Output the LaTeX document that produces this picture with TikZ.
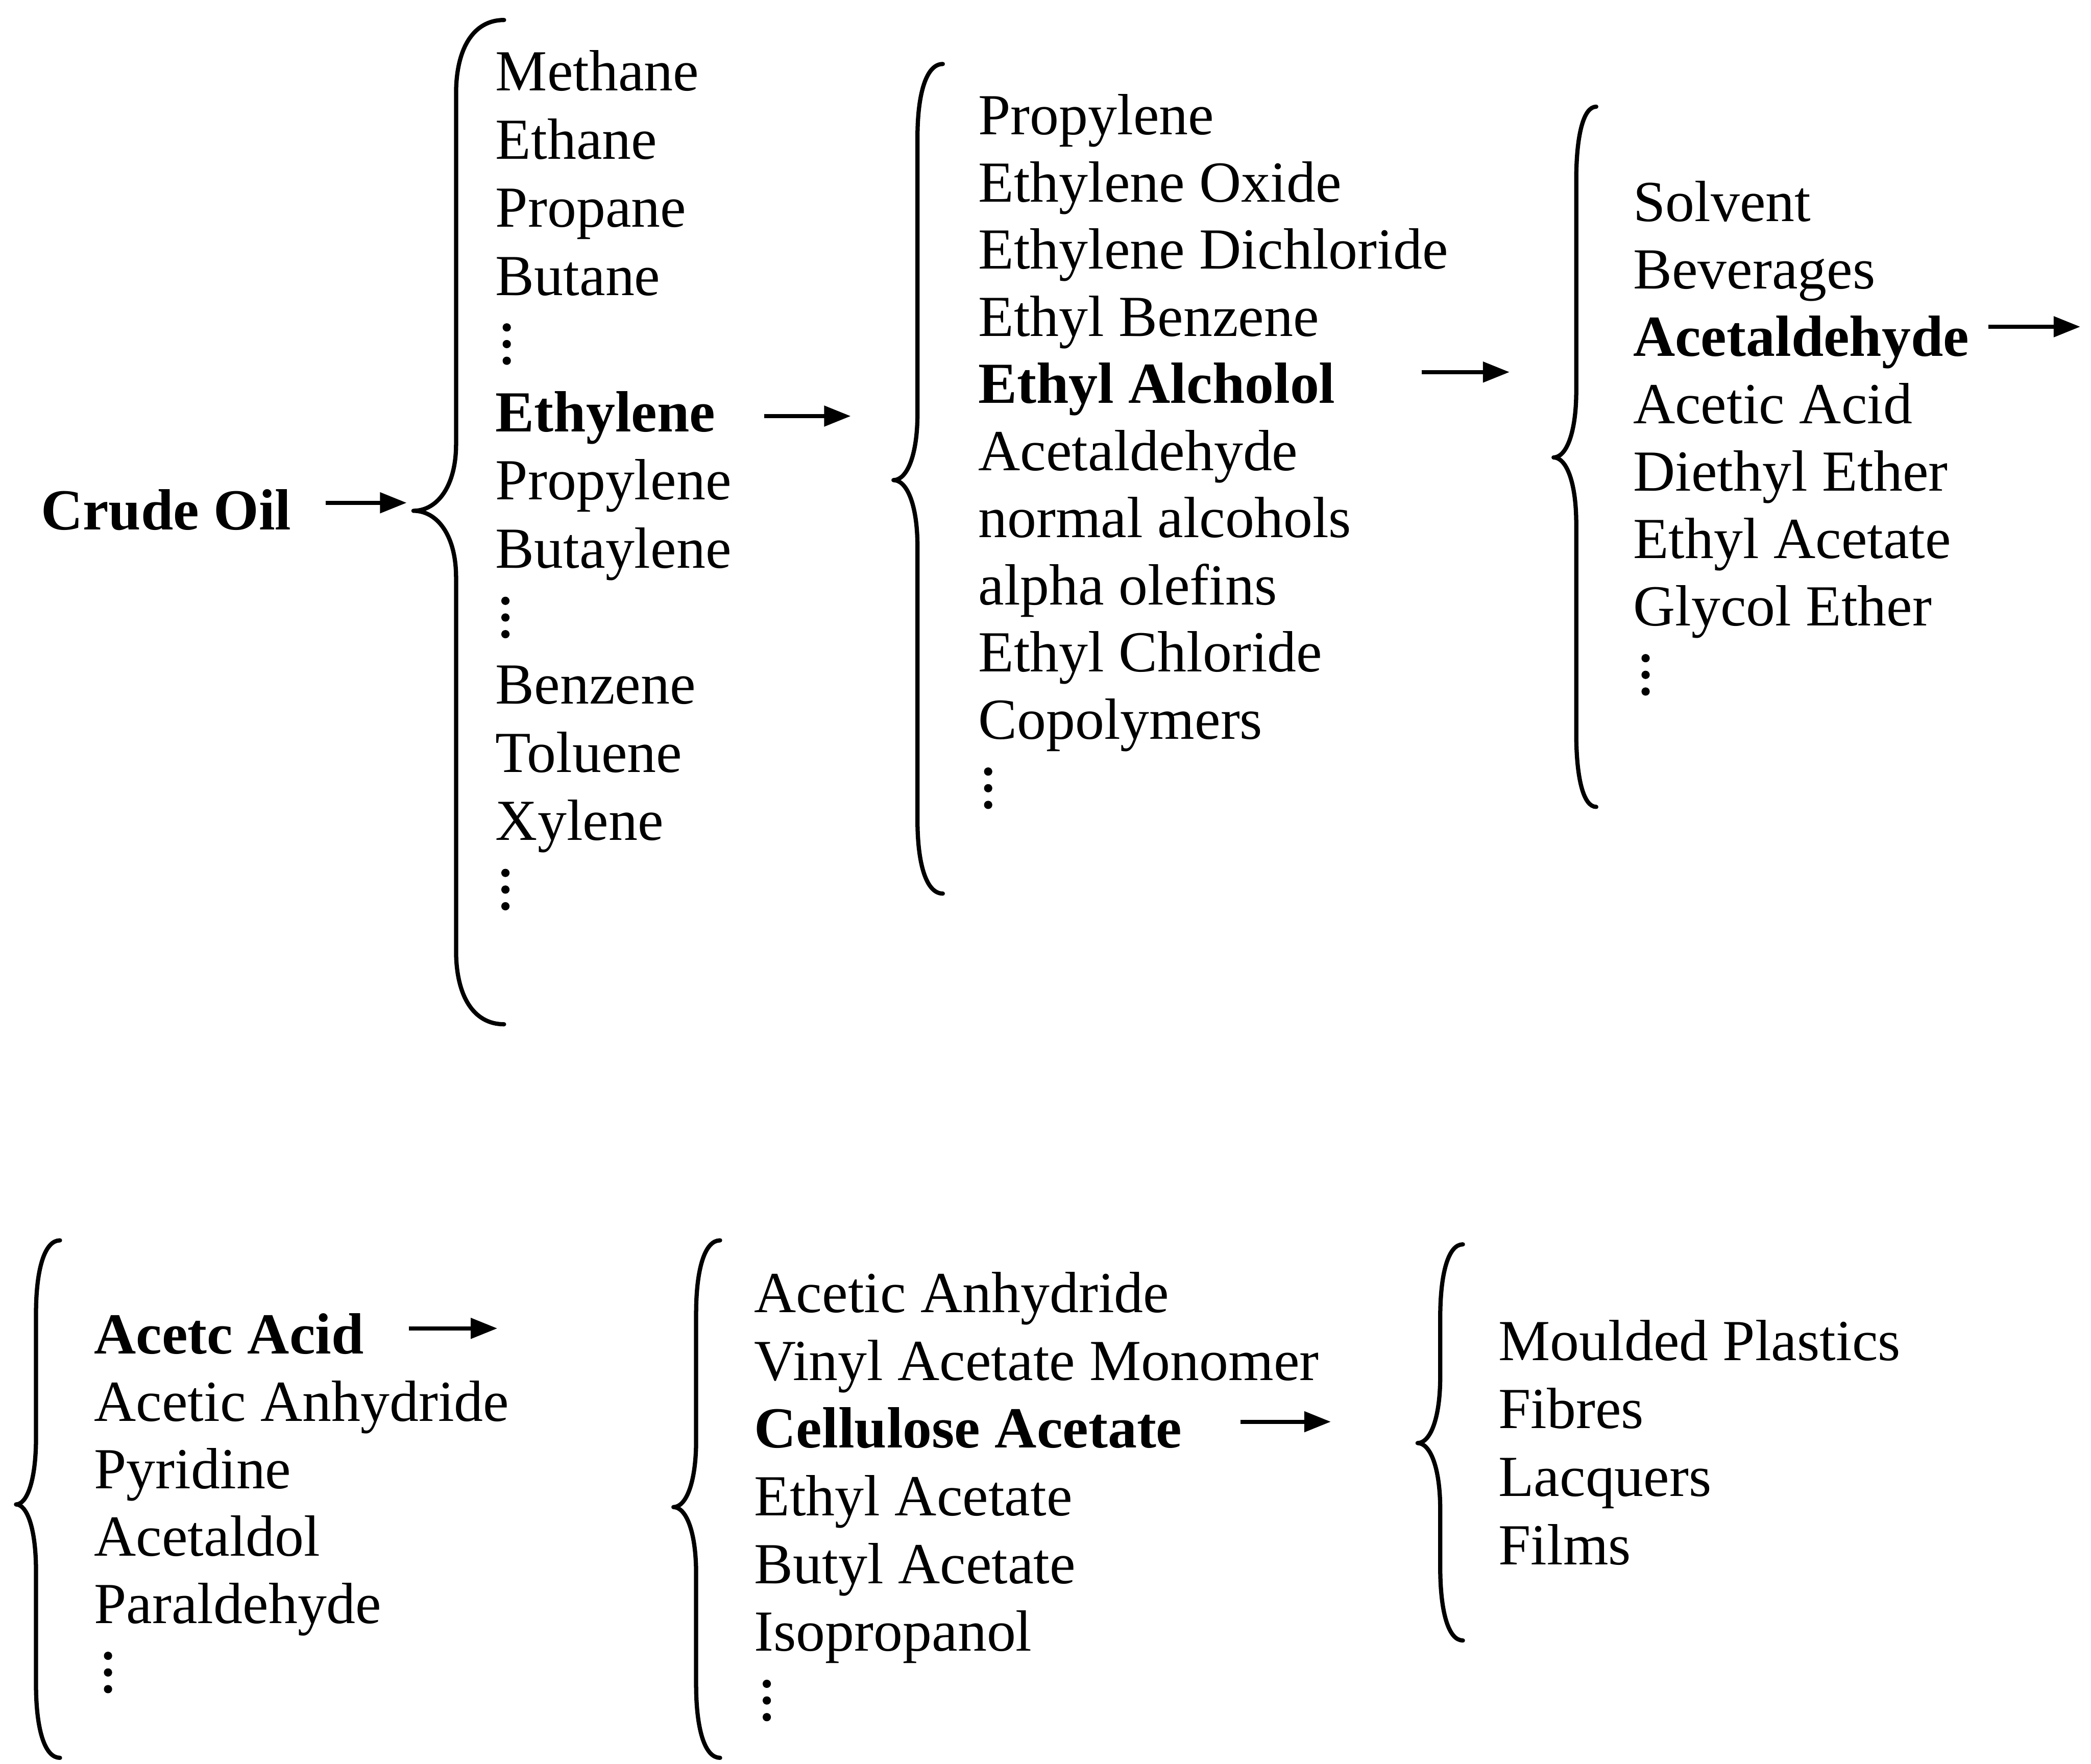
\documentclass[tikz,border=0pt]{standalone}
\usepackage{fontspec}
\setmainfont{Liberation Serif}
\usetikzlibrary{arrows.meta}

% curly brace opening to the right:
% #1 x of the curled ends, #2 x of the stem, #3 x of the tip,
% #4 y of the top end, #5 y of the tip, #6 y of the bottom end
\newcommand{\bracepath}[6]{%
  \draw[bracestyle]
    (#1,#4) .. controls ({#2+0.35*(#1-#2)},#4) and (#2,{#4+22}) .. (#2,{#4+55})
    -- (#2,{#5-50})
    .. controls (#2,{#5-18}) and ({#2-0.45*(#2-#3)},#5) .. (#3,#5)
    .. controls ({#2-0.45*(#2-#3)},#5) and (#2,{#5+18}) .. (#2,{#5+50})
    -- (#2,{#6-55})
    .. controls (#2,{#6-22}) and ({#2+0.35*(#1-#2)},#6) .. (#1,#6);}

% three stacked dots standing for "and so on"
\newcommand{\moredots}[2]{%
  \foreach \d in {-12.5,0,12.5} \fill (#1,{#2+\d}) circle (0.31mm);}

\begin{document}
\begin{tikzpicture}[x=0.1mm, y=-0.1mm,
  item/.style={anchor=base west, inner sep=0pt,
    font=\fontsize{12.4pt}{14pt}\selectfont},
  flow/.style={line width=0.9pt, -{Triangle[length=2mm,width=1.5mm]}},
  bracestyle/.style={line width=0.9pt, line cap=round, line join=round}]
\useasboundingbox (0,0) rectangle (1568,1322.6);

% ---------- top row ----------
\node[item] (crude) at (30,397) {\textbf{Crude Oil}};

\foreach \k/\t in {0/Methane,1/Ethane,2/Propane,3/Butane,
    5/\textbf{Ethylene},6/Propylene,7/Butaylene,
    9/Benzene,10/Toluene,11/Xylene}
  \node[item] (c1-\k) at (371,{54+51.1*\k+14}) {\t};
\moredots{380}{258}
\moredots{379}{463}
\moredots{379}{667}

\foreach \k/\t in {0/Propylene,1/Ethylene Oxide,2/Ethylene Dichloride,
    3/Ethyl Benzene,4/\textbf{Ethyl Alcholol},5/Acetaldehyde,
    6/normal alcohols,7/alpha olefins,8/Ethyl Chloride,9/Copolymers}
  \node[item] (c2-\k) at (733,{87+50.33*\k+14}) {\t};
\moredots{741}{591}

\foreach \k/\t in {0/Solvent,1/Beverages,2/\textbf{Acetaldehyde},
    3/Acetic Acid,4/Diethyl Ether,5/Ethyl Acetate,6/Glycol Ether}
  \node[item] (c3-\k) at (1224,{152+50.5*\k+14}) {\t};
\moredots{1234}{506}

% ---------- bottom row ----------
\foreach \k/\t in {0/\textbf{Acetc Acid},1/Acetic Anhydride,2/Pyridine,
    3/Acetaldol,4/Paraldehyde}
  \node[item] (c4-\k) at (70,{1001+50.5*\k+14}) {\t};
\moredots{81}{1254}

\foreach \k/\t in {0/Acetic Anhydride,1/Vinyl Acetate Monomer,
    2/\textbf{Cellulose Acetate},3/Ethyl Acetate,4/Butyl Acetate,5/Isopropanol}
  \node[item] (c5-\k) at (565,{970+50.8*\k+14}) {\t};
\moredots{575}{1275}

\foreach \k/\t in {0/Moulded Plastics,1/Fibres,2/Lacquers,3/Films}
  \node[item] (c6-\k) at (1123,{1006+51*\k+14}) {\t};

% ---------- braces ----------
\coordinate (b1tip) at (310,383);
\coordinate (b2tip) at (670,360);
\coordinate (b3tip) at (1165,343);
\coordinate (b5tip) at (505,1130);
\coordinate (b6tip) at (1063,1082);
\bracepath{378}{342}{310}{15}{383}{768}
\bracepath{707}{688}{670}{48}{360}{670}
\bracepath{1197}{1182}{1165}{80}{343}{605}
\bracepath{45}{27}{12}{930}{1128}{1318}
\bracepath{540}{522}{505}{930}{1130}{1318}
\bracepath{1097}{1080}{1063}{933}{1082}{1230}

% ---------- arrows ----------
\coordinate (r1) at (0,377);
\coordinate (r2) at (0,312);
\coordinate (r3) at (0,279);
\coordinate (cont) at (1560,245);
\coordinate (r5) at (0,996);
\coordinate (r6) at (0,1066);
\draw[flow, shorten <=2.5mm, shorten >=0.5mm] (crude.east |- r1) -- (b1tip |- r1);
\draw[flow, shorten <=3.6mm, shorten >=3.2mm] (c1-5.east |- r2) -- (b2tip |- r2);
\draw[flow, shorten <=6.4mm, shorten >=3.3mm] (c2-4.east |- r3) -- (b3tip |- r3);
\draw[flow, shorten <=1.4mm] (c3-2.east |- cont) -- (cont);
\draw[flow, shorten <=3.3mm, shorten >=13.2mm] (c4-0.east |- r5) -- (b5tip |- r5);
\draw[flow, shorten <=4.3mm, shorten >=6.5mm] (c5-2.east |- r6) -- (b6tip |- r6);
\end{tikzpicture}
\end{document}
